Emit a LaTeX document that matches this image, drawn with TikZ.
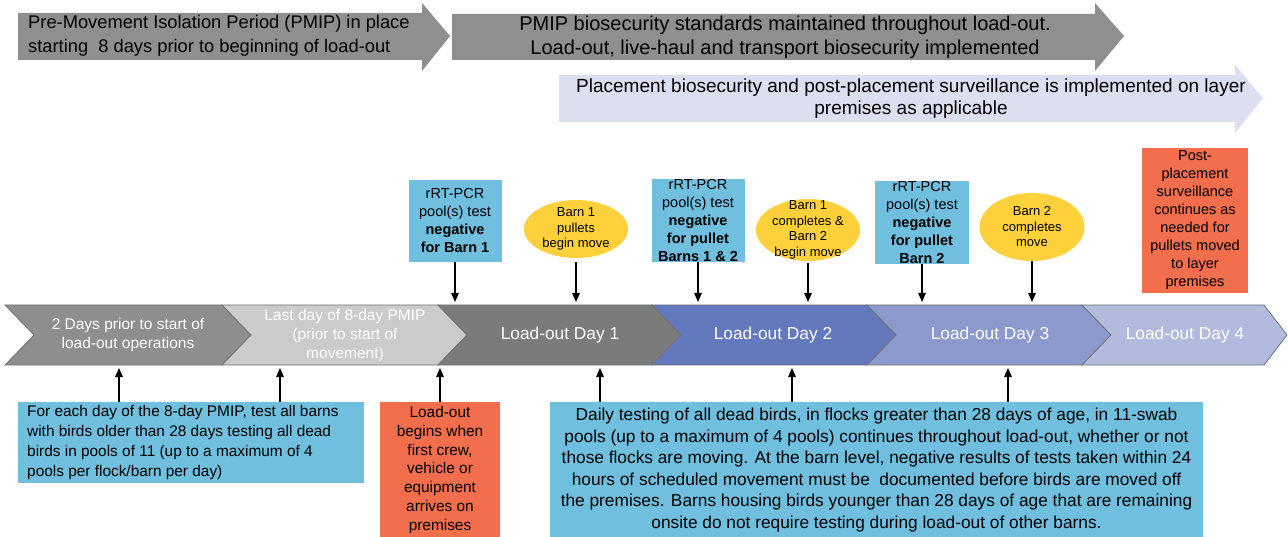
\documentclass[tikz,border=0pt]{standalone}
\usepackage{fontspec}
\setmainfont{Liberation Sans}
\usetikzlibrary{shapes.geometric,arrows.meta,calc}
\definecolor{bandgray}{HTML}{8F8F8F}
\definecolor{lav}{HTML}{DCDFEF}
\definecolor{chA}{HTML}{8E8E8E}
\definecolor{chB}{HTML}{CBCBCB}
\definecolor{chC}{HTML}{7B7B7B}
\definecolor{chD}{HTML}{6478BD}
\definecolor{chE}{HTML}{8B99CD}
\definecolor{chF}{HTML}{B2BBDD}
\definecolor{bluebox}{HTML}{70BFDF}
\definecolor{orangebox}{HTML}{F26E4C}
\definecolor{yell}{HTML}{FDD03C}
\newcommand{\mychev}[4]{% x0, x1, tip, fill
  \fill[#4, draw=gray!90!black, line width=0.8pt] (#1,305) -- (#2,305) -- (#3,335) -- (#2,365) -- (#1,365) -- ($(#1,335)+(29,0)$) -- cycle;
}
\begin{document}
\begin{tikzpicture}[x=1pt,y=-1pt,
  bx/.style={draw=none, inner sep=0pt, align=center},
  bluerect/.style={bx, fill=bluebox},
  orangerect/.style={bx, fill=orangebox},
  ell/.style={ellipse, fill=yell, inner sep=0pt},
  small/.style={font=\fontsize{14.5}{18}\selectfont},
  tiny/.style={font=\fontsize{13}{15.5}\selectfont},
  chevtext/.style={text=white, align=center, font=\fontsize{15.5}{19}\selectfont},
  daytext/.style={text=white, align=center, font=\fontsize{17.3}{20}\selectfont},
  conn/.style={line width=1.3pt, -{Triangle[length=9pt,width=7.5pt]}}
]
\useasboundingbox (0,0) rectangle (1288,537);

% top band arrows
\fill[bandgray] (18,13) -- (422,13) -- (422,3) -- (450,36) -- (422,71) -- (422,60) -- (18,60) -- cycle;
\node[align=left, anchor=west, inner sep=0pt, font=\fontsize{18.3}{23.5}\selectfont] (pmip) at (28,36) {Pre-Movement Isolation Period (PMIP) in place\\starting\ \ 8 days prior to beginning of load-out};
\fill[bandgray] (452,14) -- (1095,14) -- (1095,3) -- (1124,36) -- (1095,71) -- (1095,60) -- (452,60) -- cycle;
\node[align=center, font=\fontsize{20}{24}\selectfont] (biosec) at (785,37) {PMIP biosecurity standards maintained throughout load-out.\\Load-out, live-haul and transport biosecurity implemented};
\fill[lav] (559,75) -- (1235,75) -- (1235,65) -- (1263,98) -- (1235,133) -- (1235,122) -- (559,122) -- cycle;
\node[align=center, font=\fontsize{19}{22}\selectfont] (place) at (911,99) {Placement biosecurity and post-placement surveillance is implemented on layer\\premises as applicable};

% timeline chevrons
\mychev{5}{222}{251}{chA}
\mychev{222}{438}{467}{chB}
\mychev{438}{652}{681}{chC}
\mychev{652}{867}{896}{chD}
\mychev{867}{1082}{1111}{chE}
\mychev{1082}{1264}{1287}{chF}
\node[chevtext] (t1) at (128,335) {2 Days prior to start of\\load-out operations};
\node[chevtext] (t2) at (345,335) {Last day of 8-day PMIP\\(prior to start of\\movement)};
\node[daytext] (t3) at (560,335) {Load-out Day 1};
\node[daytext] (t4) at (773,335) {Load-out Day 2};
\node[daytext] (t5) at (990,335) {Load-out Day 3};
\node[daytext] (t6) at (1185,335) {Load-out Day 4};

\coordinate (top) at (0,302);
\coordinate (bot) at (0,368);

% upper nodes
\node[bluerect, small, minimum width=93pt, minimum height=82pt] (b1) at (455,221)
  {rRT-PCR\\pool(s) test\\\textbf{negative}\\\textbf{for Barn 1}};
\node[ell, minimum width=104pt, minimum height=58pt] (e1) at (576,229) {};
\node[tiny, align=center] (e1t) at (e1) {Barn 1\\pullets\\begin move};
\node[bluerect, small, minimum width=93pt, minimum height=83pt] (b2) at (698,220.5)
  {rRT-PCR\\pool(s) test\\\textbf{negative}\\\textbf{for pullet}\\\textbf{Barns 1 \& 2}};
\node[ell, minimum width=104pt, minimum height=62pt] (e2) at (808,230) {};
\node[tiny, align=center] (e2t) at (e2) {Barn 1\\completes \&\\Barn 2\\begin move};
\node[bluerect, small, minimum width=94pt, minimum height=83pt] (b3) at (922,222.5)
  {rRT-PCR\\pool(s) test\\\textbf{negative}\\\textbf{for pullet}\\\textbf{Barn 2}};
\node[ell, minimum width=105pt, minimum height=68pt] (e3) at (1032,227) {};
\node[tiny, align=center] (e3t) at (e3) {Barn 2\\completes\\move};
\node[orangerect, small, minimum width=106pt, minimum height=145pt] (o1) at (1195,220.5)
  {Post-\\placement\\surveillance\\continues as\\needed for\\pullets moved\\to layer\\premises};

\draw[conn] (b1.south) -- (b1.south |- top);
\draw[conn] (e1.south) ++(0,4) -- (e1.south |- top);
\draw[conn] (b2.south) -- (b2.south |- top);
\draw[conn] (e2.south) ++(0,2) -- (e2.south |- top);
\draw[conn] (b3.south) -- (b3.south |- top);
\draw[conn] (e3.south) -- (e3.south |- top);

% lower nodes
\node[bluerect, minimum width=346pt, minimum height=81pt] (lb) at (191,442.5) {};
\node[align=left, anchor=west, inner sep=0pt, font=\fontsize{15.4}{20}\selectfont] (lbt) at (27,442.5)
  {For each day of the 8-day PMIP, test all barns\\with birds older than 28 days testing all dead\\birds in pools of 11 (up to a maximum of 4\\pools per flock/barn per day)};
\node[orangerect, font=\fontsize{15.4}{18.8}\selectfont, minimum width=120pt, minimum height=136pt] (o2) at (440,470)
  {Load-out\\begins when\\first crew,\\vehicle or\\equipment\\arrives on\\premises};
\node[bluerect, font=\fontsize{17.3}{21.5}\selectfont, minimum width=653pt, minimum height=136pt] (bb) at (876.5,470)
  {Daily testing of all dead birds, in flocks greater than 28 days of age, in 11-swab\\pools (up to a maximum of 4 pools) continues throughout load-out, whether or not\\those flocks are moving. At the barn level, negative results of tests taken within 24\\hours of scheduled movement must be\ \ documented before birds are moved off\\the premises. Barns housing birds younger than 28 days of age that are remaining\\onsite do not require testing during load-out of other barns.};

\coordinate (u1) at (119,368);
\coordinate (u2) at (280,368);
\coordinate (u3) at (600,368);
\coordinate (u4) at (792,368);
\coordinate (u5) at (1008,368);
\draw[conn] (u1 |- lb.north) -- (u1);
\draw[conn] (u2 |- lb.north) -- (u2);
\draw[conn] (o2.north) -- (o2.north |- bot);
\draw[conn] (u3 |- bb.north) -- (u3);
\draw[conn] (u4 |- bb.north) -- (u4);
\draw[conn] (u5 |- bb.north) -- (u5);
\end{tikzpicture}
\end{document}
